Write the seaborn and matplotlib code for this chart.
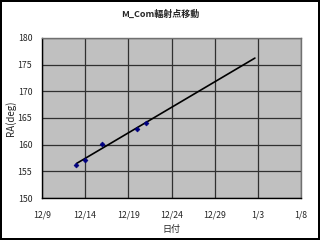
import numpy as np
import pandas as pd
import matplotlib
matplotlib.use("Agg")
import matplotlib.pyplot as plt
import seaborn as sns

# Data
dates = ["2000-12-13", "2000-12-14", "2000-12-16", "2000-12-20", "2000-12-21"]
ra_deg = [156.2, 157.2, 160.1, 163.0, 164.0]
tick_dates = ["2000-12-09", "2000-12-14", "2000-12-19", "2000-12-24",
              "2000-12-29", "2001-01-03", "2001-01-08"]
tick_labels = ["12/9", "12/14", "12/19", "12/24", "12/29", "1/3", "1/8"]
y_ticks = [150, 155, 160, 165, 170, 175, 180]
forecast_days = 12.65  # trendline forward forecast

sns.set_theme(style="white")
plt.rcParams["font.family"] = ["Noto Sans CJK JP", "DejaVu Sans"]

origin = pd.Timestamp(tick_dates[0])
x = np.array([(pd.Timestamp(d) - origin).days for d in dates], dtype=float)
xt = [(pd.Timestamp(d) - origin).days for d in tick_dates]
df = pd.DataFrame({"day": x, "ra": ra_deg})

fig = plt.figure(figsize=(3.2, 2.4), dpi=100)
fig.patch.set_facecolor("white")
fig.patch.set_edgecolor("black")
fig.patch.set_linewidth(1.5)
ax = fig.add_axes([0.131, 0.175, 0.810, 0.667])
ax.set_facecolor("#c0c0c0")

# trendline
coef = np.polyfit(x, ra_deg, 1)
tx = np.array([x.min(), x.max() + forecast_days])
ax.plot(tx, np.polyval(coef, tx), color="black", lw=1.2, zorder=3)

sns.scatterplot(data=df, x="day", y="ra", ax=ax, marker="D", s=6,
                color="#000080", edgecolor="#000080", linewidth=0.5, zorder=4)

ax.set_xlim(xt[0], xt[-1])
ax.set_ylim(150, 180)
ax.set_xticks(xt)
ax.set_xticklabels(tick_labels)
ax.set_yticks(y_ticks)
ax.grid(True, color="#303030", lw=0.9)
ax.set_axisbelow(True)
for name, s in ax.spines.items():
    s.set_color("black" if name in ("left", "bottom") else "#707070")
    s.set_linewidth(1.0)
ax.tick_params(axis="both", labelsize=6.3, length=0, color="black")
ax.tick_params(axis="x", pad=9)
ax.tick_params(axis="y", pad=7)
ax.set_xlabel("日付", fontsize=6.5, labelpad=4)
ax.set_ylabel("RA(deg)", fontsize=7, labelpad=1)
fig.text(0.5, 0.94, "M_Com輻射点移動", ha="center", va="center", fontsize=6.5,
         fontweight="bold")

fig.savefig("out.png", dpi=100, facecolor=fig.get_facecolor(), edgecolor=fig.get_edgecolor())
